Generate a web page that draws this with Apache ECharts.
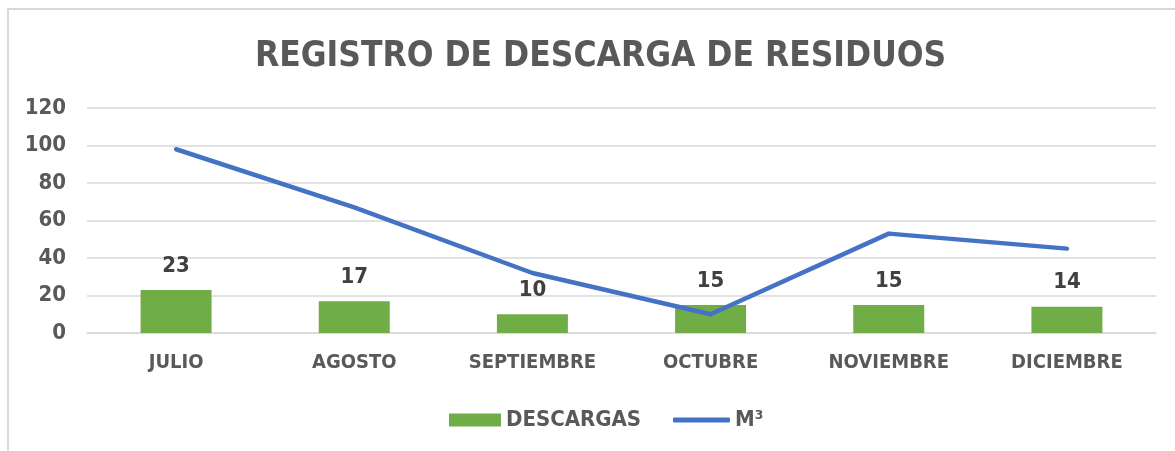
<!DOCTYPE html>
<html><head><meta charset="utf-8">
<script src="https://cdn.jsdelivr.net/npm/echarts@6/dist/echarts.min.js"></script>
<style>
html,body{margin:0;padding:0;background:#fff;}
#frame{position:absolute;left:7px;top:8px;width:1168px;height:443px;border-top:2px solid #d9d9d9;border-left:2px solid #d9d9d9;box-sizing:border-box;}
#c{position:absolute;left:0;top:0;width:1175px;height:451px;}
</style></head>
<body>
<div id="frame"></div>
<div id="c"></div>
<script>
const titleText = 'REGISTRO DE DESCARGA DE RESIDUOS';
const categories = ['JULIO','AGOSTO','SEPTIEMBRE','OCTUBRE','NOVIEMBRE','DICIEMBRE'];
const descargas = [23,17,10,15,15,14];
const m3 = [98,67,32,10,53,45];
const yTicks = [0,20,40,60,80,100,120];

const FONT = "'DejaVu Sans Condensed',sans-serif";
const chart = echarts.init(document.getElementById('c'), null, {renderer:'canvas'});
const legendText = {fontFamily:FONT,fontSize:22,fontWeight:'bold',color:'#595959'};
chart.setOption({
  animation:false,
  backgroundColor:'transparent',
  title:{text:titleText,left:250,top:34,
    textStyle:{fontFamily:FONT,fontSize:35,fontWeight:'bold',color:'#595959'}},
  grid:{left:87,right:19,top:108,bottom:118},
  legend:[
    {left:444,top:404,itemWidth:52,itemHeight:13,
     textStyle:legendText,data:[{name:'DESCARGAS',icon:'rect'}]},
    {left:668,top:404,itemWidth:57,itemHeight:5,
     textStyle:legendText,data:[{name:'M³',icon:'roundRect'}]}
  ],
  xAxis:{type:'category',data:categories,
    axisLine:{show:true,lineStyle:{color:'#d9d9d9',width:1.5}},
    axisTick:{show:false},
    axisLabel:{interval:0,fontFamily:FONT,fontSize:20,fontWeight:'bold',color:'#595959',margin:20}},
  yAxis:{type:'value',min:yTicks[0],max:yTicks[yTicks.length-1],interval:20,
    axisLine:{show:false},axisTick:{show:false},
    splitLine:{lineStyle:{color:'#d9d9d9',width:1.5}},
    axisLabel:{fontFamily:FONT,fontSize:22,fontWeight:'bold',color:'#595959',margin:21}},
  series:[
    {name:'DESCARGAS',type:'bar',data:descargas,barWidth:71,
     itemStyle:{color:'#70AD47'},
     label:{show:true,position:'top',distance:13,fontFamily:FONT,fontSize:22,fontWeight:'bold',color:'#404040'}},
    {name:'M³',type:'line',data:m3,symbol:'none',showSymbol:false,
     lineStyle:{color:'#4472C4',width:4.5,cap:'round',join:'round'},
     itemStyle:{color:'#4472C4'}}
  ]
});
</script>
</body></html>
